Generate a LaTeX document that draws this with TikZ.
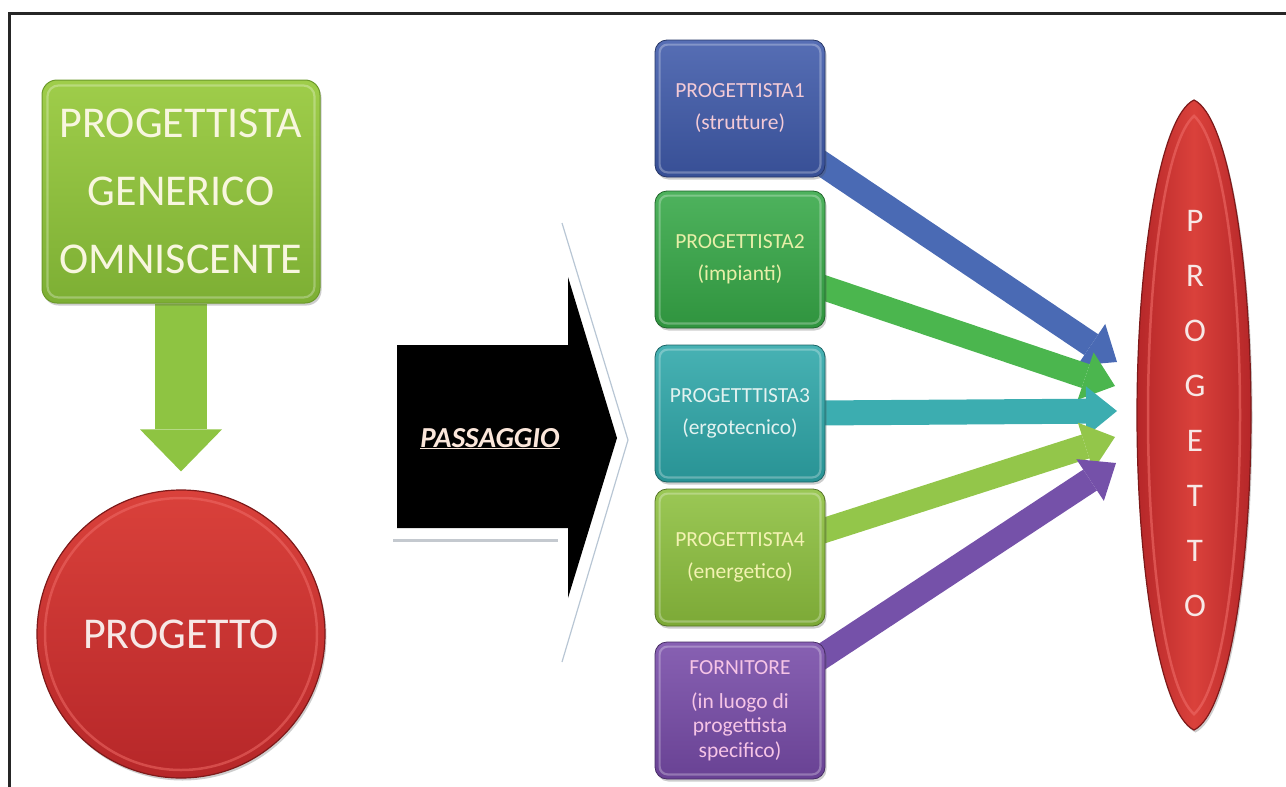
\documentclass[tikz,border=0pt]{standalone}
\usepackage{fontspec}
\setmainfont{Carlito}
\usetikzlibrary{arrows.meta,shadows}
\pgfdeclarelayer{bg}
\pgfsetlayers{bg,main}

% palette
\definecolor{frameC}{HTML}{262626}
\definecolor{gTop}{HTML}{9FCD4A}
\definecolor{gBot}{HTML}{7DAF34}
\definecolor{gEdge}{HTML}{6C9A2A}
\definecolor{gText}{HTML}{F8F6DF}
\definecolor{downC}{HTML}{8EC442}
\definecolor{rTop}{HTML}{DA413B}
\definecolor{rBot}{HTML}{B62729}
\definecolor{rEdge}{HTML}{7E1A1A}
\definecolor{rHi}{HTML}{EE6A66}
\definecolor{rText}{HTML}{F7E8E6}
\definecolor{blueC}{HTML}{3F5AAA}
\definecolor{greenC}{HTML}{36A847}
\definecolor{tealC}{HTML}{2EA7A9}
\definecolor{ygC}{HTML}{8DC03E}
\definecolor{purpC}{HTML}{774BA8}
\definecolor{blueT}{HTML}{F3CAD6}
\definecolor{greenT}{HTML}{E8EFA8}
\definecolor{tealT}{HTML}{E2F2F0}
\definecolor{ygT}{HTML}{F3F2B2}
\definecolor{purpT}{HTML}{F6C4E6}
\definecolor{blueA}{HTML}{4A6AB4}
\definecolor{greenA}{HTML}{4BB64E}
\definecolor{tealA}{HTML}{3CADB0}
\definecolor{ygA}{HTML}{93C64A}
\definecolor{purpA}{HTML}{7551A9}
\definecolor{passT}{HTML}{FBE6DA}
\definecolor{ghostC}{HTML}{B8C6D4}
\definecolor{barC}{HTML}{C4C9CF}

\begin{document}
\begin{tikzpicture}[x=1pt,y=-1pt,
  softshadow/.style={drop shadow={shadow xshift=1.5pt,shadow yshift=-2.5pt,opacity=.28,fill=black!70}},
  bigbox/.style={rounded corners=15pt, minimum width=278pt, minimum height=223pt,
    top color=gTop, bottom color=gBot, draw=gEdge, line width=1pt, inner sep=0pt,
    text=gText, align=center, font=\fontsize{44}{68}\selectfont, softshadow},
  smallbox/.style 2 args={rounded corners=12pt, minimum width=170pt, minimum height=137pt,
    top color=#1!88!white, bottom color=#1!88!black, draw=#1!60!black, line width=.8pt,
    inner sep=0pt, text=#2, align=center, font=\fontsize{21.5}{32}\selectfont, softshadow},
  bevel/.style={draw=white, opacity=.28, line width=2.2pt, rounded corners=#1},
  barrow/.style={line width=25pt, draw=#1, -{Triangle[length=31pt,width=50pt,line width=0pt]}},
  downarrow/.style={line width=52pt, draw=downC, -{Triangle[length=42pt,width=82pt,line width=0pt]}}
]
\useasboundingbox (0,0) rectangle (1286,787);

% frame
\draw[line width=3pt, frameC] (9,787) -- (9,13) -- (1286,13);

% left side: generic designer and project
\node[bigbox] (gen) at (181,191.5) {PROGETTISTA\\GENERICO\\OMNISCENTE};
\node[circle, minimum size=288pt, inner sep=0pt, top color=rTop, bottom color=rBot,
      draw=rEdge, line width=1.2pt, text=rText, font=\fontsize{44}{44}\selectfont,
      softshadow] (circ) at (181,634) {PROGETTO};
\draw[rHi, opacity=.55, line width=2.5pt] (circ.center) circle[radius=136pt];
\draw[bevel=11pt] ([shift={(6,6)}]gen.north west) rectangle ([shift={(-6,-6)}]gen.south east);

% passage arrow
\draw[ghostC, line width=1.2pt] (562,223) -- (628,440) -- (562,662);
\draw[barC, line width=3pt] (393,540) -- (558,540);
\fill[black] (397,345) -- (568,345) -- (568,277) -- (617,438) -- (568,598)
  -- (568,528) -- (397,528) -- cycle;
\node[anchor=base, text=passT, font=\fontsize{29}{29}\selectfont\bfseries\itshape]
  (pass) at (490,447) {\underline{PASSAGGIO}};

% specialised designers
\node[smallbox={blueC}{blueT}]   (b1) at (740,108.5) {PROGETTISTA1\\(strutture)};
\node[smallbox={greenC}{greenT}] (b2) at (740,259.5) {PROGETTISTA2\\(impianti)};
\node[smallbox={tealC}{tealT}]   (b3) at (740,413.5) {PROGETTTISTA3\\(ergotecnico)};
\node[smallbox={ygC}{ygT}]       (b4) at (740,557.5) {PROGETTISTA4\\(energetico)};
\node[smallbox={purpC}{purpT}, font=\fontsize{21.5}{24.5}\selectfont]
  (b5) at (740,710.5) {FORNITORE\\[9pt](in luogo di\\progettista\\specifico)};
\foreach \b in {b1,b2,b3,b4,b5}
  \draw[bevel=8pt] ([shift={(5,5)}]\b.north west) rectangle ([shift={(-5,-5)}]\b.south east);

% final project (lens)
\path[left color=rBot, right color=rBot, middle color=rTop, draw=rEdge, line width=1.2pt,
      softshadow]
  (1194,100) .. controls (1228,116) and (1251,260) .. (1251,415)
  .. controls (1251,570) and (1228,714) .. (1194,730)
  .. controls (1160,714) and (1137,570) .. (1137,415)
  .. controls (1137,260) and (1160,116) .. (1194,100) -- cycle;
\draw[rHi, opacity=.6, line width=2.5pt]
  (1194,116) .. controls (1222,140) and (1240,270) .. (1240,415)
  .. controls (1240,560) and (1222,690) .. (1194,714)
  .. controls (1166,690) and (1148,560) .. (1148,415)
  .. controls (1148,270) and (1166,140) .. (1194,116) -- cycle;
\node[text=rText, align=center, font=\fontsize{33}{55}\selectfont, inner sep=0pt]
  (pv) at (1195,414) {P\\R\\O\\G\\E\\T\\T\\O};

% arrow end points beside the lens
\coordinate (t1) at (1117,362);
\coordinate (t2) at (1115,386);
\coordinate (t3) at (1117,411);
\coordinate (t4) at (1115,437);
\coordinate (t5) at (1116,463);

\begin{pgfonlayer}{bg}
  \draw[downarrow, shorten >=18pt] (gen.south) -- (circ.north);
  \draw[barrow=blueA]  (b1.center) -- (t1);
  \draw[barrow=greenA] (b2.center) -- (t2);
  \draw[barrow=tealA]  (b3.center) -- (t3);
  \draw[barrow=ygA]    (b4.center) -- (t4);
  \draw[barrow=purpA]  (b5.center) -- (t5);
\end{pgfonlayer}
\end{tikzpicture}
\end{document}
